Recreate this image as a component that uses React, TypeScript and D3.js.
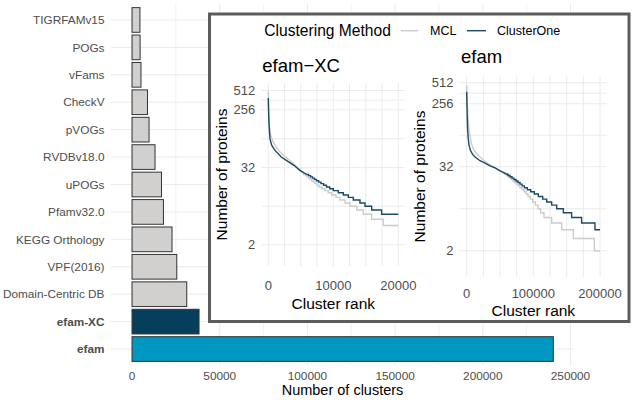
import React from "react";
import * as d3 from "d3";

// ---------- Main bar chart data ----------
const categories = [
  "TIGRFAMv15", "POGs", "vFams", "CheckV", "pVOGs", "RVDBv18.0", "uPOGs",
  "Pfamv32.0", "KEGG Orthology", "VPF(2016)", "Domain-Centric DB", "efam-XC", "efam",
];
const clusterCounts = [4500, 4600, 5100, 8800, 9700, 13100, 16800, 17900, 22800, 25500, 31200, 38200, 240200];
const boldCategories = ["efam-XC", "efam"];
const barTicks = [0, 50000, 100000, 150000, 200000, 250000];

// ---------- Inset data: [rank, proteins] head points, then [startRank, size] steps ----------
const xcMclHead = [[0, 500], [40, 320], [100, 200], [200, 140], [350, 105], [700, 82], [1200, 68], [1800, 56], [2500, 48], [3500, 40], [4500, 32], [5000, 29], [5300, 26.5]];
const xcMclSteps = [[5450, 25], [5700, 24], [5950, 23], [6200, 22], [6450, 21], [6700, 20], [6950, 19], [7200, 18], [7500, 17], [7800, 16], [8250, 15], [8720, 14], [9230, 13], [9750, 12], [10415, 11], [11030, 10], [11800, 9], [12570, 8], [13600, 7], [14600, 6], [15900, 5], [17700, 4]];
const xcOneHead = [[0, 390], [40, 250], [100, 160], [180, 115], [260, 90], [520, 72], [1000, 60], [2000, 47], [3000, 40], [4000, 34.5], [4850, 29], [5500, 26.5], [6000, 25]];
const xcOneSteps = [[6200, 24], [6500, 23], [6800, 22], [7100, 21], [7400, 20], [7750, 19], [8100, 18], [8500, 17], [8950, 16], [9450, 15], [10000, 14], [10770, 13], [11540, 12], [12310, 11], [13080, 10], [14100, 9], [14880, 8], [15900, 7], [17440, 6]];
const xcEndRank = 20000;

const efMclHead = [[0, 475], [500, 320], [1000, 240], [2000, 160], [4000, 100], [7000, 70], [10000, 57], [15000, 49], [20000, 44], [27500, 38], [35000, 34], [42000, 31], [50000, 28], [55000, 26]];
const efMclSteps = [[57000, 25], [60000, 24], [62500, 23], [65000, 22], [67000, 21], [69500, 20], [72000, 19], [74500, 18], [77000, 17], [80000, 16], [83000, 15], [86000, 14], [89000, 13], [92000, 12], [95500, 11], [99000, 10], [103000, 9], [107000, 8], [111000, 7], [116000, 6], [127500, 5], [142500, 4], [160000, 3], [191400, 2]];
const efOneHead = [[0, 380], [400, 250], [900, 160], [1400, 110], [2200, 85], [3500, 66], [5500, 55], [9000, 48], [12500, 44], [20000, 39], [27500, 36], [35000, 33], [42000, 31], [50000, 28], [55000, 26.5], [60000, 25]];
const efOneSteps = [[62000, 24], [65000, 23], [68000, 22], [71000, 21], [74000, 20], [77000, 19], [80000, 18], [83000, 17], [86500, 16], [91000, 15], [96000, 14], [101500, 13], [107500, 12], [114000, 11], [120000, 10], [127500, 9], [135000, 8], [145000, 7], [157400, 6], [172400, 5], [192400, 4]];
const efEndRank = 200000;

const methods = ["MCL", "ClusterOne"];
const methodColors = ["#cccccc", "#1b4a64"];
const proteinTicks = [2, 32, 256, 512];
const proteinMinor = [8, 90.5, 362];

const FONT = "'Liberation Sans', Arial, Helvetica, sans-serif";
const TICK = "#4d4d4d";
const GRID = "#ebebeb";

function buildSeries(head: number[][], steps: number[][], endRank: number) {
  const pts: [number, number][] = head.map((d) => [d[0], d[1]] as [number, number]);
  let prev = head[head.length - 1][1];
  for (const s of steps) {
    pts.push([s[0], prev]);
    pts.push([s[0], s[1]]);
    prev = s[1];
  }
  pts.push([endRank, prev]);
  return pts;
}

type PanelProps = {
  title: string;
  titleX: number;
  titleY: number;
  xDomain: [number, number];
  xRange: [number, number];
  yLogDomain: [number, number];
  yRange: [number, number];
  xGridStep: number;
  xTicks: number[];
  series: [number, number][][];
  tickY: number;
  titleBaseY: number;
  yTitleX: number;
};

function Panel(p: PanelProps) {
  const x = d3.scaleLinear().domain(p.xDomain).range(p.xRange);
  const yl = d3.scaleLinear().domain(p.yLogDomain).range(p.yRange);
  const y = (v: number) => yl(Math.log2(v));
  const [x0, x1] = p.xRange;
  const [yb, yt] = p.yRange;
  const gridX = d3.range(0, p.xDomain[1] + 1, p.xGridStep);
  const line = d3.line<[number, number]>().x((d) => x(d[0])).y((d) => y(d[1]));
  return (
    <g>
      {gridX.map((g) => (
        <line key={"gx" + g} x1={x(g)} x2={x(g)} y1={yt} y2={yb} stroke={GRID} strokeWidth={1} />
      ))}
      {[...proteinTicks, ...proteinMinor].map((g) => (
        <line key={"gy" + g} x1={x0} x2={x1} y1={y(g)} y2={y(g)} stroke={GRID} strokeWidth={1} />
      ))}
      {p.series.map((s, i) => (
        <path key={i} d={line(s) || ""} fill="none" stroke={methodColors[i]} strokeWidth={1.4} />
      ))}
      {proteinTicks.map((t) => (
        <text key={"yt" + t} x={x0 - 6.5} y={y(t) + 4.5} textAnchor="end" fontSize={13} fill={TICK} fontFamily={FONT}>
          {t}
        </text>
      ))}
      {p.xTicks.map((t) => (
        <text key={"xt" + t} x={x(t)} y={p.tickY} textAnchor="middle" fontSize={13} fill={TICK} fontFamily={FONT}>
          {t}
        </text>
      ))}
      <text x={(x0 + x1) / 2} y={p.titleBaseY} textAnchor="middle" fontSize={15.5} fill="#000" fontFamily={FONT}>
        Cluster rank
      </text>
      <text
        transform={`translate(${p.yTitleX},${(yb + yt) / 2}) rotate(-90)`}
        textAnchor="middle"
        fontSize={15.5}
        fill="#000"
        fontFamily={FONT}
      >
        Number of proteins
      </text>
      <text x={p.titleX} y={p.titleY} fontSize={18.5} fill="#000" fontFamily={FONT}>
        {p.title}
      </text>
    </g>
  );
}

export default function App() {
  const W = 633;
  const H = 400;
  const x = d3.scaleLinear().domain([-12000, 252000]).range([111, 574]);
  const y = d3.scalePoint<string>().domain(categories).range([3.5, 365.5]).padding(0.6);
  const step = y.step();
  const barH = step * 0.9;
  const gridX = d3.range(0, 250001, 25000);

  const xcMcl = buildSeries(xcMclHead, xcMclSteps, xcEndRank);
  const xcOne = buildSeries(xcOneHead, xcOneSteps, xcEndRank);
  const efMcl = buildSeries(efMclHead, efMclSteps, efEndRank);
  const efOne = buildSeries(efOneHead, efOneSteps, efEndRank);

  const fillFor = (c: string) => (c === "efam" ? "#0098c0" : c === "efam-XC" ? "#063f5c" : "#d2cfcf");

  return (
    <svg width={W} height={H} style={{ position: "absolute", left: 0, top: 0, background: "#fff" }}>
      <rect x={0} y={0} width={W} height={H} fill="#fff" />
      {/* main grid */}
      {gridX.map((g) => (
        <line key={"mg" + g} x1={x(g)} x2={x(g)} y1={3.5} y2={365.5} stroke={GRID} strokeWidth={g % 50000 === 0 ? 1 : 0.6} />
      ))}
      {categories.map((c) => (
        <line key={"hg" + c} x1={111} x2={574} y1={y(c)!} y2={y(c)!} stroke={GRID} strokeWidth={1} />
      ))}
      {/* bars */}
      {categories.map((c, i) => (
        <rect
          key={"b" + c}
          x={x(0)}
          y={y(c)! - barH / 2}
          width={x(clusterCounts[i]) - x(0)}
          height={barH}
          fill={fillFor(c)}
          stroke="#333333"
          strokeWidth={1}
        />
      ))}
      {categories.map((c) => (
        <text
          key={"yl" + c}
          x={104.5}
          y={y(c)! + 4.2}
          textAnchor="end"
          fontSize={11.8}
          fontWeight={boldCategories.includes(c) ? "bold" : "normal"}
          fill={TICK}
          fontFamily={FONT}
        >
          {c}
        </text>
      ))}
      {barTicks.map((t) => (
        <text key={"xl" + t} x={x(t)} y={380} textAnchor="middle" fontSize={11.8} fill={TICK} fontFamily={FONT}>
          {t}
        </text>
      ))}
      <text x={342.5} y={395} textAnchor="middle" fontSize={14.5} fill="#000" fontFamily={FONT}>
        Number of clusters
      </text>

      {/* inset */}
      <rect x={209.5} y={14} width={419.5} height={307.5} fill="#fff" stroke="#5c5c5c" strokeWidth={3} />
      <text x={264.3} y={35.5} fontSize={15.6} fill="#000" fontFamily={FONT}>
        Clustering Method
      </text>
      <line x1={401} x2={418} y1={30.7} y2={30.7} stroke={methodColors[0]} strokeWidth={1.4} />
      <text x={430} y={35} fontSize={12.5} fill="#000" fontFamily={FONT}>
        {methods[0]}
      </text>
      <line x1={467} x2={486} y1={30.7} y2={30.7} stroke={methodColors[1]} strokeWidth={1.4} />
      <text x={497} y={35} fontSize={12.5} fill="#000" fontFamily={FONT}>
        {methods[1]}
      </text>

      <Panel
        title={"efam\u2212XC"}
        titleX={262.3}
        titleY={71.7}
        xDomain={[-1000, 21000]}
        xRange={[261.8, 404.8]}
        yLogDomain={[-0.1, 9.39]}
        yRange={[266, 83]}
        xGridStep={2500}
        xTicks={[0, 10000, 20000]}
        series={[xcMcl, xcOne]}
        tickY={289.5}
        titleBaseY={309}
        yTitleX={227}
      />
      <Panel
        title="efam"
        titleX={461}
        titleY={63.3}
        xDomain={[-10000, 210000]}
        xRange={[460, 606.7]}
        yLogDomain={[-0.25, 9.32]}
        yRange={[277, 76]}
        xGridStep={25000}
        xTicks={[0, 100000, 200000]}
        series={[efMcl, efOne]}
        tickY={298}
        titleBaseY={315.5}
        yTitleX={425}
      />
    </svg>
  );
}
